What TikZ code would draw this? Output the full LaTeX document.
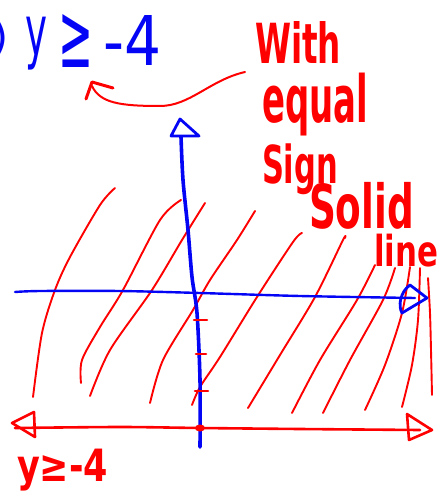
\documentclass[tikz,border=0pt]{standalone}
\usepackage{fontspec}
\setmainfont{DejaVu Sans}
\usepackage{graphicx}
\definecolor{penred}{RGB}{255,0,0}
\definecolor{penblue}{RGB}{5,5,245}
\newcommand{\fitbox}[3]{\resizebox*{#1}{#2}{#3}}
\begin{document}
\begin{tikzpicture}[x=1pt,y=-1pt, line cap=round, line join=round,
  hatch/.style={draw=penred, line width=1.9pt},
  axisline/.style={draw=penblue, line width=3.6pt},
  redline/.style={draw=penred, line width=2.6pt},
  lbl/.style={inner sep=0pt, outer sep=0pt, anchor=north west},
  redtxt/.style={lbl, text=penred, font=\bfseries},
  bluetxt/.style={lbl, text=penblue},
]
\useasboundingbox (0,0) rectangle (440,492);

% ---------- hatching ----------
\draw[hatch] plot[smooth] coordinates {(33,397) (42,333) (55,290) (70,257) (100,205) (115,188)};
\draw[hatch] plot[smooth] coordinates {(81,383) (82,360) (100,327) (123,290) (160,220) (181,200)};
\draw[hatch] plot[smooth] coordinates {(90,396) (110,350) (152,290) (182,240) (205,203)};
\draw[hatch] plot[smooth] coordinates {(150,403) (163,360) (193,310) (210,280) (237,240) (255,211)};
\draw[hatch] plot[smooth] coordinates {(192,405) (200,387) (220,357) (257,297) (293,242) (302,233)};
\draw[hatch] plot[smooth] coordinates {(248,408) (280,355) (315,297) (343,240) (345,238)};
\draw[hatch] plot[smooth] coordinates {(292,413) (320,360) (357,300) (375,265)};
\draw[hatch] plot[smooth] coordinates {(323,413) (350,360) (383,300) (395,268)};
\draw[hatch] plot[smooth] coordinates {(365,410) (385,365) (402,313) (410,267)};
\draw[hatch] plot[smooth] coordinates {(402,407) (412,365) (418,320) (420,268)};
\draw[hatch] plot[smooth] coordinates {(432,395) (431,350) (430,313) (428,278)};

% ---------- blue axes ----------
\draw[axisline] plot[smooth] coordinates {(200,447) (200,380) (197,313) (192,277) (188,230) (183,180) (181,137)};
\draw[axisline, line width=2.8pt] (180,119) -- (199,136) -- (171,136) -- cycle;

\draw[penblue, line width=2.4pt] plot[smooth] coordinates {(15,292) (40,291) (120,291) (200,293) (300,296) (415,298)};
\draw[penblue, line width=2.8pt] (427,298) -- (410,285) .. controls (400,292) and (398,306) .. (402,313) -- cycle;

% ---------- ticks and point ----------
\draw[penred, line width=2.6pt] (194,320) -- (207,320);
\draw[penred, line width=2.6pt] (196,354) -- (206,354);
\draw[penred, line width=2.6pt] (195,391) -- (208,391);
\fill[penred] (200,428) ellipse (5pt and 3.5pt);

% ---------- red number line ----------
\draw[redline] plot[smooth] coordinates {(15,428) (120,427) (200,428) (300,429) (420,430)};
\draw[redline] (12,423) -- (34,412) -- (35,437) -- cycle;
\draw[redline] (432,430) -- (407,414) -- (409,440) -- cycle;

% ---------- red arrow ----------
\draw[penred, line width=2pt] (245,72) .. controls (210,80) and (190,106) .. (160,106)
  .. controls (120,106) and (100,103) .. (92,86);
\draw[penred, line width=3pt] (86,99) -- (92,82) -- (113,88);

% ---------- texts ----------
\node[bluetxt] (paren) at (-8,20) {\fitbox{16pt}{37pt}{)}};
\node[bluetxt] (ylet) at (25,17) {\fitbox{22pt}{53pt}{y}};
\node[bluetxt] (geq) at (58,15) {\fitbox{35pt}{53pt}{≥}};
\node[bluetxt] (minusfour) at (103,15) {\fitbox{58pt}{50pt}{-4}};

\node[redtxt] (with) at (255,22) {\fitbox{86pt}{42pt}{With}};
\node[redtxt] (equal) at (262,73) {\fitbox{106pt}{63pt}{equal}};
\node[redtxt] (sign) at (262,144) {\fitbox{76pt}{51pt}{Sign}};
\node[redtxt] (solid) at (309,182) {\fitbox{105pt}{47pt}{Solid}};
\node[redtxt] (line) at (374,234) {\fitbox{64pt}{33pt}{line}};

\node[redtxt] (ybottom) at (17,449) {\fitbox{91pt}{42pt}{y≥-4}};
\end{tikzpicture}
\end{document}
